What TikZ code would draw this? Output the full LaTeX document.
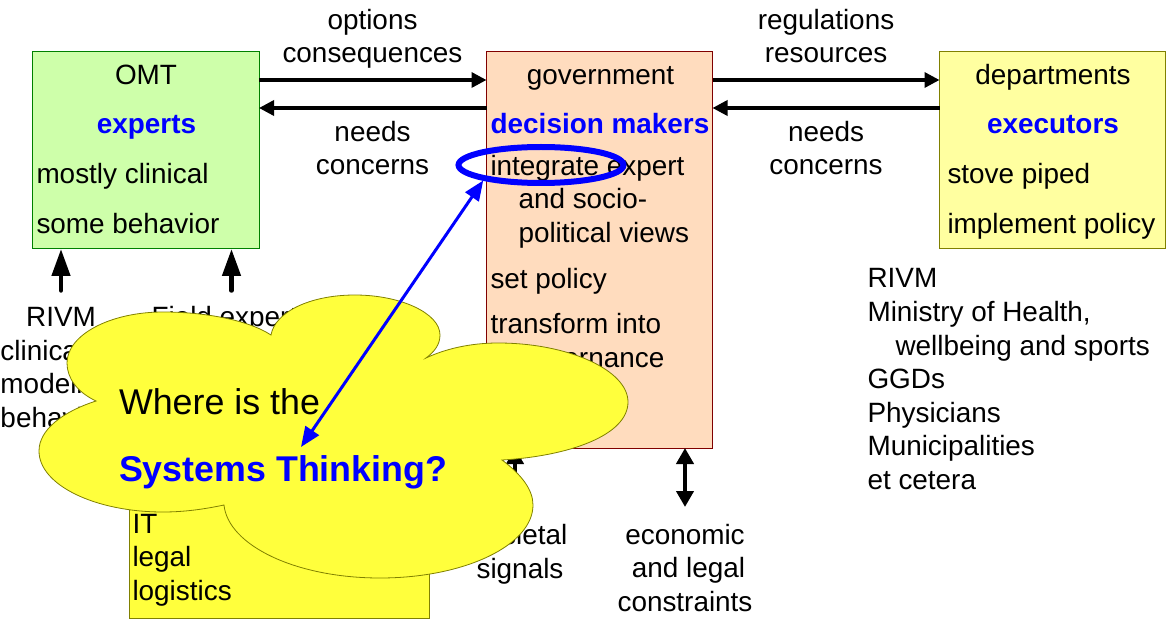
\documentclass[tikz,border=0pt]{standalone}
\usepackage{fontspec}
\setmainfont{Liberation Sans}
\usetikzlibrary{arrows.meta,shapes.geometric}
\definecolor{omtgreen}{RGB}{206,255,170}
\definecolor{govpeach}{RGB}{255,220,190}
\definecolor{deptyellow}{RGB}{255,255,160}
\definecolor{cloudyellow}{RGB}{255,255,60}
\definecolor{cloudedge}{RGB}{128,128,0}
\definecolor{govedge}{RGB}{128,0,0}
\definecolor{keyblue}{RGB}{0,0,255}
\tikzset{
  box/.style={draw, rectangle, line width=1pt, outer sep=0pt, inner sep=0pt, anchor=north west},
  txt/.style={inner sep=0pt, outer sep=0pt, font=\fontsize{27.9}{33.6}\selectfont, align=left, anchor=base west},
  mid/.style={txt, align=center, anchor=base},
  key/.style={txt, text=keyblue, font=\fontsize{27.9}{33.6}\selectfont\bfseries},
  link/.style={line width=3.4pt, -{Triangle[length=15pt,width=15pt]}},
  feed/.style={line width=4.5pt, line cap=round, -{Triangle[length=27pt,width=18pt]}},
  both/.style={line width=4pt, {Triangle[length=16pt,width=17pt]}-{Triangle[length=16pt,width=17pt]}},
  pointer/.style={line width=3pt, keyblue, {Triangle[length=20pt,width=16pt]}-{Triangle[length=20pt,width=16pt]}},
}
\begin{document}
\begin{tikzpicture}[x=1pt,y=-1pt]
    \useasboundingbox (0,0) rectangle (1167,620);
    \node[box, fill=omtgreen, draw=green!50!black, minimum width=227pt, minimum height=197pt] (omt) at (32,52) {};
    \node[box, fill=govpeach, draw=govedge, minimum width=226pt, minimum height=396pt] (gov) at (486.5,52) {};
    \node[box, fill=deptyellow, draw=cloudedge, minimum width=226pt, minimum height=197pt] (dept) at (939.5,52) {};
    \node[box, fill=cloudyellow, draw=cloudedge, minimum width=300pt, minimum height=260pt] (support) at (129.5,358) {};

    \coordinate (upper) at (0,80);
    \coordinate (lower) at (0,108);
    \draw[link] (omt.east |- upper) -- (gov.west |- upper);
    \draw[link] (gov.west |- lower) -- (omt.east |- lower);
    \draw[link] (gov.east |- upper) -- (dept.west |- upper);
    \draw[link] (dept.west |- lower) -- (gov.east |- lower);

    % top labels
    \node[mid] (asks) at (372.5,63) {options\\consequences};
    \node[mid] (needsleft) at (372.5,175) {needs\\concerns};
    \node[mid] (gives) at (826,63) {regulations\\resources};
    \node[mid] (needsright) at (826,175) {needs\\concerns};

    % omt box
    \node[mid] (omttitle) at (146,85) {OMT};
    \node[key, anchor=base] (omtrole) at (146.5,134) {experts};
    \node[txt] (omtline1) at (36.5,184) {mostly clinical};
    \node[txt] (omtline2) at (36.5,233.5) {some behavior};

    % government box
    \node[mid] (govtitle) at (600.5,85) {government};
    \node[key, anchor=base] (govrole) at (600,134) {decision makers};
    \node[txt] (govline1) at (490.5,175.5) {integrate expert};
    \node[txt] (govline2) at (518.5,242.5) {and socio-\\political views};
    \node[txt] (govline3) at (490.5,288.5) {set policy};
    \node[txt] (govline4) at (490.5,367.5) {transform into\\\hspace*{28pt}governance};

    % departments box
    \node[mid] (depttitle) at (1053,85) {departments};
    \node[key, anchor=base] (deptrole) at (1053,134) {executors};
    \node[txt] (deptline1) at (947.5,184) {stove piped};
    \node[txt] (deptline2) at (947.5,233.5) {implement policy};

    \node[txt] (actors) at (867.5,489.5) {RIVM\\Ministry of Health,\\\hspace*{28pt}wellbeing and sports\\GGDs\\Physicians\\Municipalities\\et cetera};

    % inputs from below
    \node[mid] (rivm) at (61,326.5) {RIVM};
    \node[txt] (rivmlist) at (0.5,427.5) {clinical\\modeling\\behavior};
    \node[txt] (field) at (151.5,326.5) {Field experts};
    \coordinate (rivmfoot) at (61,290.5);
    \coordinate (fieldfoot) at (231.5,290.5);
    \draw[feed] (rivmfoot) -- (rivmfoot |- omt.south);
    \draw[feed] (fieldfoot) -- (fieldfoot |- omt.south);

    \node[txt] (supportlist) at (132.5,600.5) {IT\\legal\\logistics};
    \node[mid] (societal) at (520,578.5) {societal\\signals};
    \node[mid] (economic) at (685,611.5) {economic\\\hspace*{7pt}and legal\\constraints};
    \coordinate (societalfoot) at (515,510);
    \coordinate (economicfoot) at (685,507);
    \draw[both] (societalfoot) -- (societalfoot |- gov.south);
    \draw[both] (economicfoot) -- (economicfoot |- gov.south);

    % cloud on top
    \draw[fill=cloudyellow, draw=cloudedge, line width=0.8pt]
        (96,401) .. controls (77,392) and (67,378) .. (67,363)
        .. controls (67,335) and (110,312) .. (163,312)
        .. controls (205,312) and (248,320) .. (271,335)
        .. controls (275,312) and (310,295) .. (355,295)
        .. controls (400,295) and (440,313) .. (440,335)
        .. controls (440,345) and (434,352) .. (426,358)
        .. controls (445,349) and (470,343) .. (498,343)
        .. controls (568,343) and (628,370) .. (628,402)
        .. controls (628,435) and (570,456) .. (502,460)
        .. controls (522,475) and (533,490) .. (533,505)
        .. controls (533,545) and (465,578) .. (380,578)
        .. controls (295,578) and (228,545) .. (224,505)
        .. controls (205,509) and (185,512) .. (163,512)
        .. controls (95,512) and (39,485) .. (39,451)
        .. controls (39,430) and (62,412) .. (96,401) -- cycle;
    \node[txt, font=\fontsize{35.8}{40}\selectfont] (where) at (119,414) {Where is the};
    \node[key, font=\fontsize{35.8}{40}\selectfont\bfseries] (systems) at (119,481) {Systems Thinking?};

    \node[draw=keyblue, ellipse, line width=6pt, minimum width=165pt, minimum height=36pt, inner sep=0pt] (oval) at (541,165) {};
    \coordinate (cloudend) at (301,447);
    \draw[pointer] (oval.195) -- (cloudend);
\end{tikzpicture}
\end{document}
